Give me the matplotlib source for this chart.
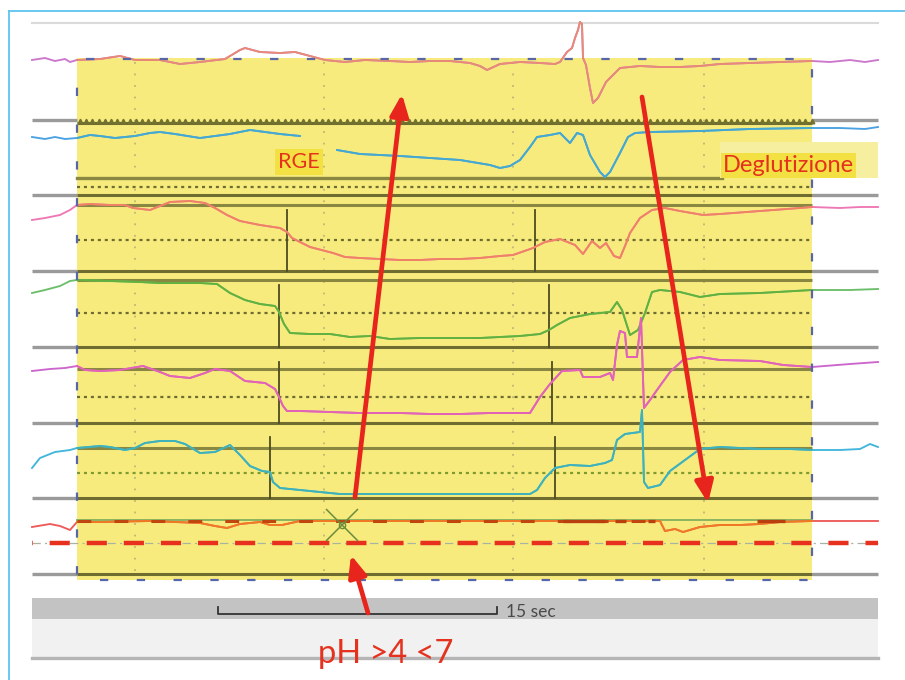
import numpy as np
import matplotlib
matplotlib.use("Agg")
import matplotlib.pyplot as plt
from matplotlib.patches import Rectangle, FancyArrowPatch

plt.rcParams['lines.scale_dashes'] = False
plt.rcParams['font.family'] = ['Lato', 'DejaVu Sans']

# ---------------- data ----------------
SAMPLES_PER_SEC = 18.6          # time axis in samples
SCALE_BAR_SEC = 15
SCALE_BAR_START = 186
WIN_START, WIN_END = 45, 780    # highlighted window (samples)
TRACE_END = 846

# channel traces (sample index, display level)
ch1_t = [0, 13, 23, 33, 38, 45, 68, 88, 103, 128, 148, 168, 193, 208, 213, 228, 248, 263, 278, 293, 313, 333, 358, 378, 398, 418, 438, 448, 455, 468, 488, 508, 523, 528, 535, 540, 543, 546, 548, 550, 551, 554, 558, 561, 566, 574, 588, 608, 628, 648, 668, 688, 718, 748, 780, 798, 818, 833, 846]
ch1_v = [60, 58, 61, 59, 62, 60, 59, 56, 60, 60, 64, 62, 59, 50, 48, 52, 53, 52, 56, 60, 62, 60, 61, 62, 61, 61, 63, 66, 70, 64, 62, 63, 64, 62, 52, 48, 38, 30, 22, 24, 58, 65, 88, 103, 98, 82, 68, 66, 67, 67, 66, 64, 63, 62, 61, 62, 60, 62, 60]

ch2_t = [0, 13, 23, 33, 45, 58, 68, 83, 103, 118, 128, 143, 168, 198, 218, 233, 248, 268, 270, 305, 328, 348, 368, 398, 428, 458, 468, 478, 488, 498, 505, 518, 528, 538, 545, 551, 558, 568, 573, 578, 588, 596, 603, 618, 668, 718, 780, 808, 833, 846]
ch2_v = [137, 139, 137, 139, 138, 135, 136, 138, 136, 133, 132, 134, 138, 134, 130, 132, 134, 136, np.nan, 150, 154, 155, 156, 158, 160, 165, 168, 166, 160, 147, 137, 135, 133, 143, 133, 135, 155, 172, 177, 172, 153, 137, 133, 132, 131, 129, 128, 128, 129, 127]

ch3_t = [0, 13, 28, 38, 45, 58, 78, 93, 101, 118, 128, 138, 158, 173, 183, 195, 208, 228, 248, 255, 260, 278, 301, 313, 328, 348, 368, 388, 408, 428, 448, 468, 481, 501, 513, 528, 543, 551, 560, 568, 574, 582, 588, 593, 598, 608, 620, 633, 648, 671, 688, 728, 768, 780, 808, 828, 846]
ch3_v = [220, 218, 215, 210, 205, 204, 205, 205, 208, 210, 206, 202, 201, 203, 208, 215, 221, 225, 228, 232, 238, 247, 253, 257, 258, 259, 260, 260, 259, 259, 258, 256, 255, 248, 242, 239, 245, 254, 241, 248, 243, 256, 258, 246, 233, 218, 210, 208, 211, 215, 214, 211, 208, 207, 208, 207, 207]

ch4_t = [0, 13, 28, 38, 45, 78, 108, 128, 168, 185, 198, 213, 228, 243, 247, 252, 258, 278, 298, 318, 338, 358, 388, 418, 448, 468, 488, 508, 517, 525, 538, 558, 578, 585, 590, 598, 606, 613, 620, 628, 648, 668, 688, 728, 780, 818, 846]
ch4_v = [293, 290, 286, 281, 280, 281, 282, 283, 283, 284, 293, 300, 304, 306, 312, 324, 333, 334, 334, 337, 336, 339, 338, 338, 338, 337, 336, 334, 330, 325, 318, 314, 312, 302, 310, 335, 330, 313, 292, 290, 292, 297, 294, 293, 290, 290, 289]

ch5_t = [0, 18, 33, 45, 53, 68, 88, 111, 128, 138, 158, 173, 183, 198, 213, 233, 243, 247, 251, 255, 268, 298, 328, 368, 398, 428, 458, 498, 508, 518, 530, 548, 551, 568, 578, 581, 585, 588, 593, 595, 605, 609, 612, 618, 625, 638, 651, 668, 688, 728, 751, 780, 818, 846]
ch5_v = [371, 369, 368, 366, 370, 371, 370, 366, 372, 376, 378, 373, 369, 371, 381, 383, 389, 397, 406, 411, 411, 412, 413, 413, 414, 414, 413, 413, 397, 384, 371, 370, 377, 377, 373, 380, 345, 331, 333, 357, 357, 318, 408, 400, 390, 372, 360, 357, 360, 361, 365, 367, 364, 362]

ch6_t = [0, 8, 23, 38, 45, 68, 78, 93, 103, 113, 128, 143, 153, 168, 183, 198, 208, 218, 230, 238, 241, 248, 268, 288, 308, 368, 418, 498, 505, 513, 523, 538, 558, 573, 580, 585, 593, 608, 610, 612, 616, 628, 638, 653, 668, 688, 728, 758, 780, 808, 828, 838, 846]
ch6_v = [468, 458, 452, 450, 448, 446, 447, 450, 448, 443, 441, 441, 444, 453, 452, 445, 455, 466, 471, 472, 482, 488, 490, 492, 494, 494, 494, 494, 490, 478, 468, 465, 466, 463, 460, 440, 434, 432, 410, 482, 488, 485, 471, 460, 449, 447, 449, 449, 450, 450, 449, 444, 447]

ch7_t = [0, 18, 28, 38, 45, 68, 118, 168, 183, 195, 208, 228, 238, 250, 268, 368, 468, 568, 628, 633, 643, 651, 668, 688, 708, 728, 748, 780, 846]
ch7_v = [527, 524, 526, 530, 522, 522, 521, 523, 526, 528, 524, 522, 525, 525, 521, 521, 521, 521, 521, 531, 529, 532, 527, 525, 525, 524, 522, 521, 521]

# pH channel: darker overlay segments (sample start, end)
ph_dark_segments = [(531, 573), (583, 594), (616, 623), (725, 753)]
PH_THRESHOLD_LEVEL = 543

# event markers per lane: (samples, top, bottom)
events = [([255, 503], 210, 271), ([247, 517], 285, 347),
          ([247, 520], 362, 423), ([238, 523], 437, 498)]

# lane grid levels
boundary_lines = [120, 195, 271, 347, 423, 498, 574]
lane_top_lines = [205, 280, 369, 448]
dotted_lines = [187, 240, 313, 397, 473]
grid_samples = [103, 292, 481, 672]

# ---------------- figure ----------------
fig = plt.figure(figsize=(9.05, 6.8), dpi=100)
ax = fig.add_axes([0, 0, 1, 1])
ax.set_xlim(-32, 873)
ax.set_ylim(680, 0)
ax.axis('off')

YELLOW = '#f7eb7e'
OLIVE = '#6e6c2e'
OLIVE2 = '#8a8840'
GRAY = '#9a9a9a'

# frame
ax.plot([-23, -23], [11, 680], color='#5ec4ef', lw=1.3, zorder=1)
ax.plot([-23, 873], [11, 11], color='#5ec4ef', lw=1.3, zorder=1)
ax.plot([0, TRACE_END], [23, 23], color='#dadada', lw=1.5, zorder=1)

# highlighted window
ax.add_patch(Rectangle((WIN_START, 58), WIN_END - WIN_START, 522,
                       facecolor=YELLOW, edgecolor='none', zorder=1))
ax.add_patch(Rectangle((WIN_START, 59), WIN_END - WIN_START, 521,
                       facecolor='none', edgecolor='#5866a8', lw=1.6,
                       linestyle=(20, (6, 20.5)), zorder=6))

# vertical dotted grid
for g in grid_samples:
    ax.plot([g, g], [62, 575], color='#b9b27a', lw=1.2,
            linestyle=(0, (1.3, 7)), zorder=2)

# lane boundaries
for y in boundary_lines:
    ax.plot([0, WIN_START], [y, y], color=GRAY, lw=2.4, zorder=2,
            solid_capstyle='butt')
    ax.plot([WIN_END, TRACE_END], [y, y], color=GRAY, lw=2.4, zorder=2,
            solid_capstyle='butt')
    yy = y + 3 if y == 120 else y
    ax.plot([WIN_START, WIN_END], [yy, yy], color=OLIVE, lw=2.2, zorder=2,
            solid_capstyle='butt')
# sawtooth pattern on the first boundary
saw = np.arange(WIN_START + 3, WIN_END, 6.2)
ax.plot(saw, np.full_like(saw, 120.5), linestyle='none', marker='^',
        ms=3.3, color='#74722f', zorder=2)
for y in lane_top_lines:
    ax.plot([WIN_START, WIN_END], [y, y], color=OLIVE2, lw=2.2, zorder=2,
            solid_capstyle='butt')
ax.plot([WIN_START, 690], [178, 178], color=OLIVE2, lw=2.4, zorder=2)
ax.plot([WIN_START, WIN_END], [520, 520], color='#8cb560', lw=1.4, zorder=2)
for y in dotted_lines:
    c = '#7f9a30' if y == 473 else OLIVE
    ax.plot([WIN_START, WIN_END], [y, y], color=c, lw=1.6,
            linestyle=(0, (2.2, 2.8)), zorder=2)

# event markers
for xs, top, bot in events:
    for xe in xs:
        ax.plot([xe, xe], [top, bot], color='#4d4b22', lw=1.3, zorder=4)


def trace(t, v, c_out, c_in, lw=1.35):
    t = np.asarray(t, float)
    v = np.asarray(v, float)
    ax.plot(t, v, color=c_out, lw=lw, zorder=5)
    m = (t >= WIN_START) & (t <= WIN_END)
    ax.plot(t[m], v[m], color=c_in, lw=lw, zorder=5)


trace(ch1_t, ch1_v, '#cc77cc', '#e88a74')
trace(ch2_t, ch2_v, '#4aa2e2', '#45a9cf')
trace(ch3_t, ch3_v, '#ee78b4', '#f08262')
trace(ch4_t, ch4_v, '#6cbf6a', '#62b03e')
trace(ch5_t, ch5_v, '#cc66cc', '#e463b4')
trace(ch6_t, ch6_v, '#42b6dc', '#3fb1b8')
trace(ch7_t, ch7_v, '#ec5a5a', '#f07a22')

# pH dark overlays
ax.plot([WIN_START, 628], [521, 521], color='#c0460f', lw=2.2,
        linestyle=(0, (10, 16.6)), zorder=6)
for a, b in ph_dark_segments:
    ax.plot([a, b], [521, 521], color='#b8400e', lw=2.4, zorder=6,
            solid_capstyle='butt')

# pH threshold dashed line
ax.plot([0, TRACE_END], [PH_THRESHOLD_LEVEL] * 2, color='#a8b4a0', lw=0.9,
        linestyle=(0, (6, 3, 1.5, 3)), zorder=5)
ax.plot([0, TRACE_END], [PH_THRESHOLD_LEVEL] * 2, color='#e8301f', lw=3.2,
        linestyle=(14, (14.5, 12.2)), zorder=6, solid_capstyle='butt')

# X marker on the pH channel
ax.plot([310], [525], marker='x', ms=23, mew=1.1, color='#6c8c3a', zorder=7)
ax.plot([310], [525], marker='o', ms=4.5, mfc='none', mew=1.0,
        color='#6c8c3a', zorder=7)

# bottom bands and scale bar
ax.add_patch(Rectangle((0, 598), TRACE_END, 21, facecolor='#c3c3c3',
                       edgecolor='none', zorder=1))
ax.add_patch(Rectangle((0, 619), TRACE_END, 38, facecolor='#f1f1f1',
                       edgecolor='none', zorder=1))
ax.plot([0, TRACE_END], [658, 658], color='#b5b5b5', lw=2.4, zorder=2)
sb_end = SCALE_BAR_START + SCALE_BAR_SEC * SAMPLES_PER_SEC
ax.plot([SCALE_BAR_START, SCALE_BAR_START, sb_end, sb_end],
        [607, 614, 614, 607], color='#333333', lw=1.3, zorder=4)
ax.text(sb_end + 9, 617, f'{SCALE_BAR_SEC} sec', fontsize=12.5,
        color='#4a4a4a', ha='left', va='baseline', zorder=4)

# annotations
ax.add_patch(Rectangle((688, 142), 158, 36, facecolor='#f7efa0',
                       edgecolor='none', zorder=7))
ax.text(246, 168, 'RGE', fontsize=15.5, color='#e5321e', ha='left',
        va='baseline', zorder=8,
        bbox=dict(facecolor='#f3e143', edgecolor='none', pad=2.5))
ax.text(691, 172, 'Deglutizione', fontsize=17, color='#e5321e', ha='left',
        va='baseline', zorder=8,
        bbox=dict(facecolor='#f3e143', edgecolor='none', pad=1.5))
ax.text(286, 663, 'pH >4 <7', fontsize=23.5, color='#e5321e', ha='left',
        va='baseline', zorder=8)

ARROW_C = '#e8251c'
for (x0, y0), (x1, y1) in [((323, 497), (370, 94)),
                           ((610, 97), (676, 503)),
                           ((336, 613), (319, 555))]:
    ax.add_patch(FancyArrowPatch((x0, y0), (x1, y1),
                                 arrowstyle='-|>,head_length=1.3,head_width=0.55',
                                 mutation_scale=10, lw=3.4, color=ARROW_C,
                                 shrinkA=0, shrinkB=0, zorder=9))

fig.savefig('out.png', dpi=100)
